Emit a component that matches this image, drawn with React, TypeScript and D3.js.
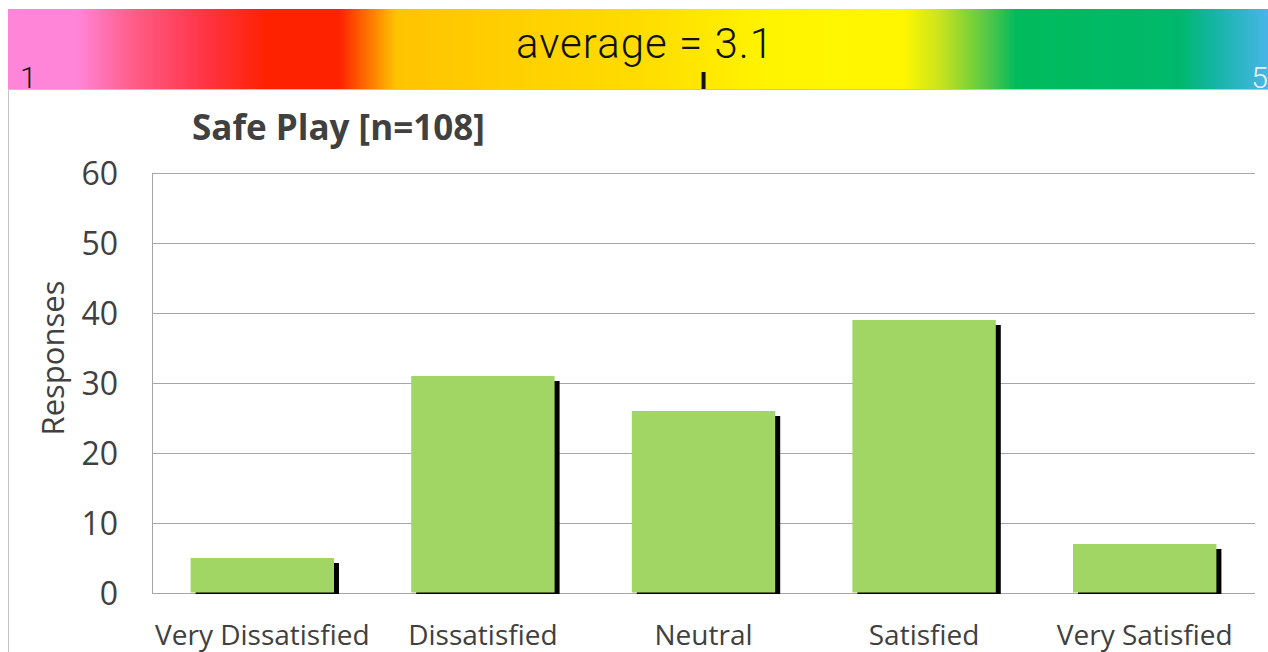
import React, { useEffect, useRef } from 'react';
import * as d3 from 'd3';

const categories = ['Very Dissatisfied', 'Dissatisfied', 'Neutral', 'Satisfied', 'Very Satisfied'];
const responses = [5, 31, 26, 39, 7];
const yTicks = [0, 10, 20, 30, 40, 50, 60];
const title = 'Safe Play [n=108]';
const scaleEnds = [1, 5];
const average = 3.11;

const gradientStops: [number, string][] = [
  [0, '#ff85d8'], [0.055, '#ff85d8'], [0.1, '#ff5c86'], [0.155, '#ff3446'],
  [0.205, '#ff2200'], [0.263, '#ff2200'], [0.285, '#ff7000'], [0.308, '#ffc400'],
  [0.5, '#ffdc00'], [0.605, '#fff400'], [0.71, '#fff700'], [0.74, '#c8e41c'],
  [0.785, '#3cc24e'], [0.8, '#00bb5c'], [0.93, '#00b86c'], [0.955, '#12b5a0'],
  [1, '#48b5e8'],
];

const App: React.FC = () => {
  const svgRef = useRef<SVGSVGElement>(null);

  useEffect(() => {
    document.body.style.margin = '0';
    if (!svgRef.current) return;
    const width = 1268;
    const height = 652;
    const svg = d3.select(svgRef.current);
    svg.selectAll('*').remove();
    svg.attr('width', width).attr('height', height);

    // gradient strip on top
    const defs = svg.append('defs');
    const grad = defs.append('linearGradient').attr('id', 'scaleGrad')
      .attr('x1', '0%').attr('x2', '100%').attr('y1', '0%').attr('y2', '0%');
    gradientStops.forEach(([o, c]) => grad.append('stop').attr('offset', o).attr('stop-color', c));

    const stripLeft = 8, stripRight = 1268, stripTop = 9, stripBottom = 89;
    svg.append('rect').attr('x', stripLeft).attr('y', stripTop)
      .attr('width', stripRight - stripLeft).attr('height', stripBottom - stripTop)
      .attr('fill', 'url(#scaleGrad)');

    const avgScale = d3.scaleLinear().domain(scaleEnds).range([60, 1280]);
    svg.append('rect').attr('x', avgScale(average) - 2).attr('y', 72)
      .attr('width', 4).attr('height', stripBottom - 72).attr('fill', '#111');

    const thin = 'Roboto, "Liberation Sans", sans-serif';
    svg.append('text').attr('x', 645).attr('y', 58).attr('text-anchor', 'middle')
      .attr('font-family', thin).attr('font-weight', 300)
      .attr('font-size', 42).attr('letter-spacing', 1).attr('fill', '#111')
      .text(`average = ${average.toFixed(1)}`);
    svg.append('text').attr('x', 20).attr('y', 88)
      .attr('font-family', thin).attr('font-weight', 300)
      .attr('font-size', 30).attr('fill', '#111').text(scaleEnds[0]);
    svg.append('text').attr('x', 1268).attr('y', 88).attr('text-anchor', 'end')
      .attr('font-family', thin).attr('font-weight', 300)
      .attr('font-size', 30).attr('fill', '#e8f4fb').text(scaleEnds[1]);

    // panel border
    svg.append('line').attr('x1', 8).attr('x2', width).attr('y1', 89.5).attr('y2', 89.5)
      .attr('stroke', '#c4c4c4');
    svg.append('line').attr('x1', 8.5).attr('x2', 8.5).attr('y1', 89).attr('y2', height)
      .attr('stroke', '#c4c4c4');

    // chart
    const left = 152, right = 1255, top = 173, bottom = 593;
    const x = d3.scaleBand().domain(categories).range([left, right])
      .paddingInner(0.35).paddingOuter(0.175);
    const y = d3.scaleLinear().domain([0, 60]).range([bottom, top]);

    const font = '"Open Sans", "DejaVu Sans", sans-serif';

    svg.append('g').selectAll('line').data(yTicks).enter().append('line')
      .attr('x1', left).attr('x2', right)
      .attr('y1', d => Math.round(y(d)) + 0.5).attr('y2', d => Math.round(y(d)) + 0.5)
      .attr('stroke', '#a6a6a6').attr('stroke-width', 1);
    svg.append('line').attr('x1', left + 0.5).attr('x2', left + 0.5)
      .attr('y1', top).attr('y2', bottom + 1).attr('stroke', '#a6a6a6');

    svg.append('g').selectAll('text').data(yTicks).enter().append('text')
      .attr('x', 118).attr('y', d => y(d) + 12).attr('text-anchor', 'end')
      .attr('font-family', font).attr('font-size', 32).attr('fill', '#404040')
      .text(d => d);

    svg.append('text')
      .attr('transform', `translate(64,358) rotate(-90)`)
      .attr('text-anchor', 'middle').attr('font-family', font).attr('font-size', 31)
      .attr('fill', '#404040').text('Responses');

    svg.append('text').attr('x', 192).attr('y', 140)
      .attr('font-family', font).attr('font-weight', 700).attr('font-size', 35)
      .attr('fill', '#404040').text(title);

    const bars = svg.append('g');
    // shadows
    bars.selectAll('rect.shadow').data(responses).enter().append('rect')
      .attr('class', 'shadow')
      .attr('x', (d, i) => x(categories[i])! + 5)
      .attr('y', d => y(d) + 5)
      .attr('width', x.bandwidth())
      .attr('height', d => Math.max(0, bottom + 1 - (y(d) + 5)))
      .attr('fill', '#000');
    bars.selectAll('rect.bar').data(responses).enter().append('rect')
      .attr('class', 'bar')
      .attr('x', (d, i) => x(categories[i])!)
      .attr('y', d => y(d))
      .attr('width', x.bandwidth())
      .attr('height', d => bottom - 0.5 - y(d))
      .attr('fill', '#a2d664');

    svg.append('g').selectAll('text').data(categories).enter().append('text')
      .attr('x', d => x(d)! + x.bandwidth() / 2).attr('y', 645)
      .attr('text-anchor', 'middle').attr('font-family', font).attr('font-size', 28)
      .attr('fill', '#404040').text(d => d);
  }, []);

  return <svg ref={svgRef}></svg>;
};

export default App;
